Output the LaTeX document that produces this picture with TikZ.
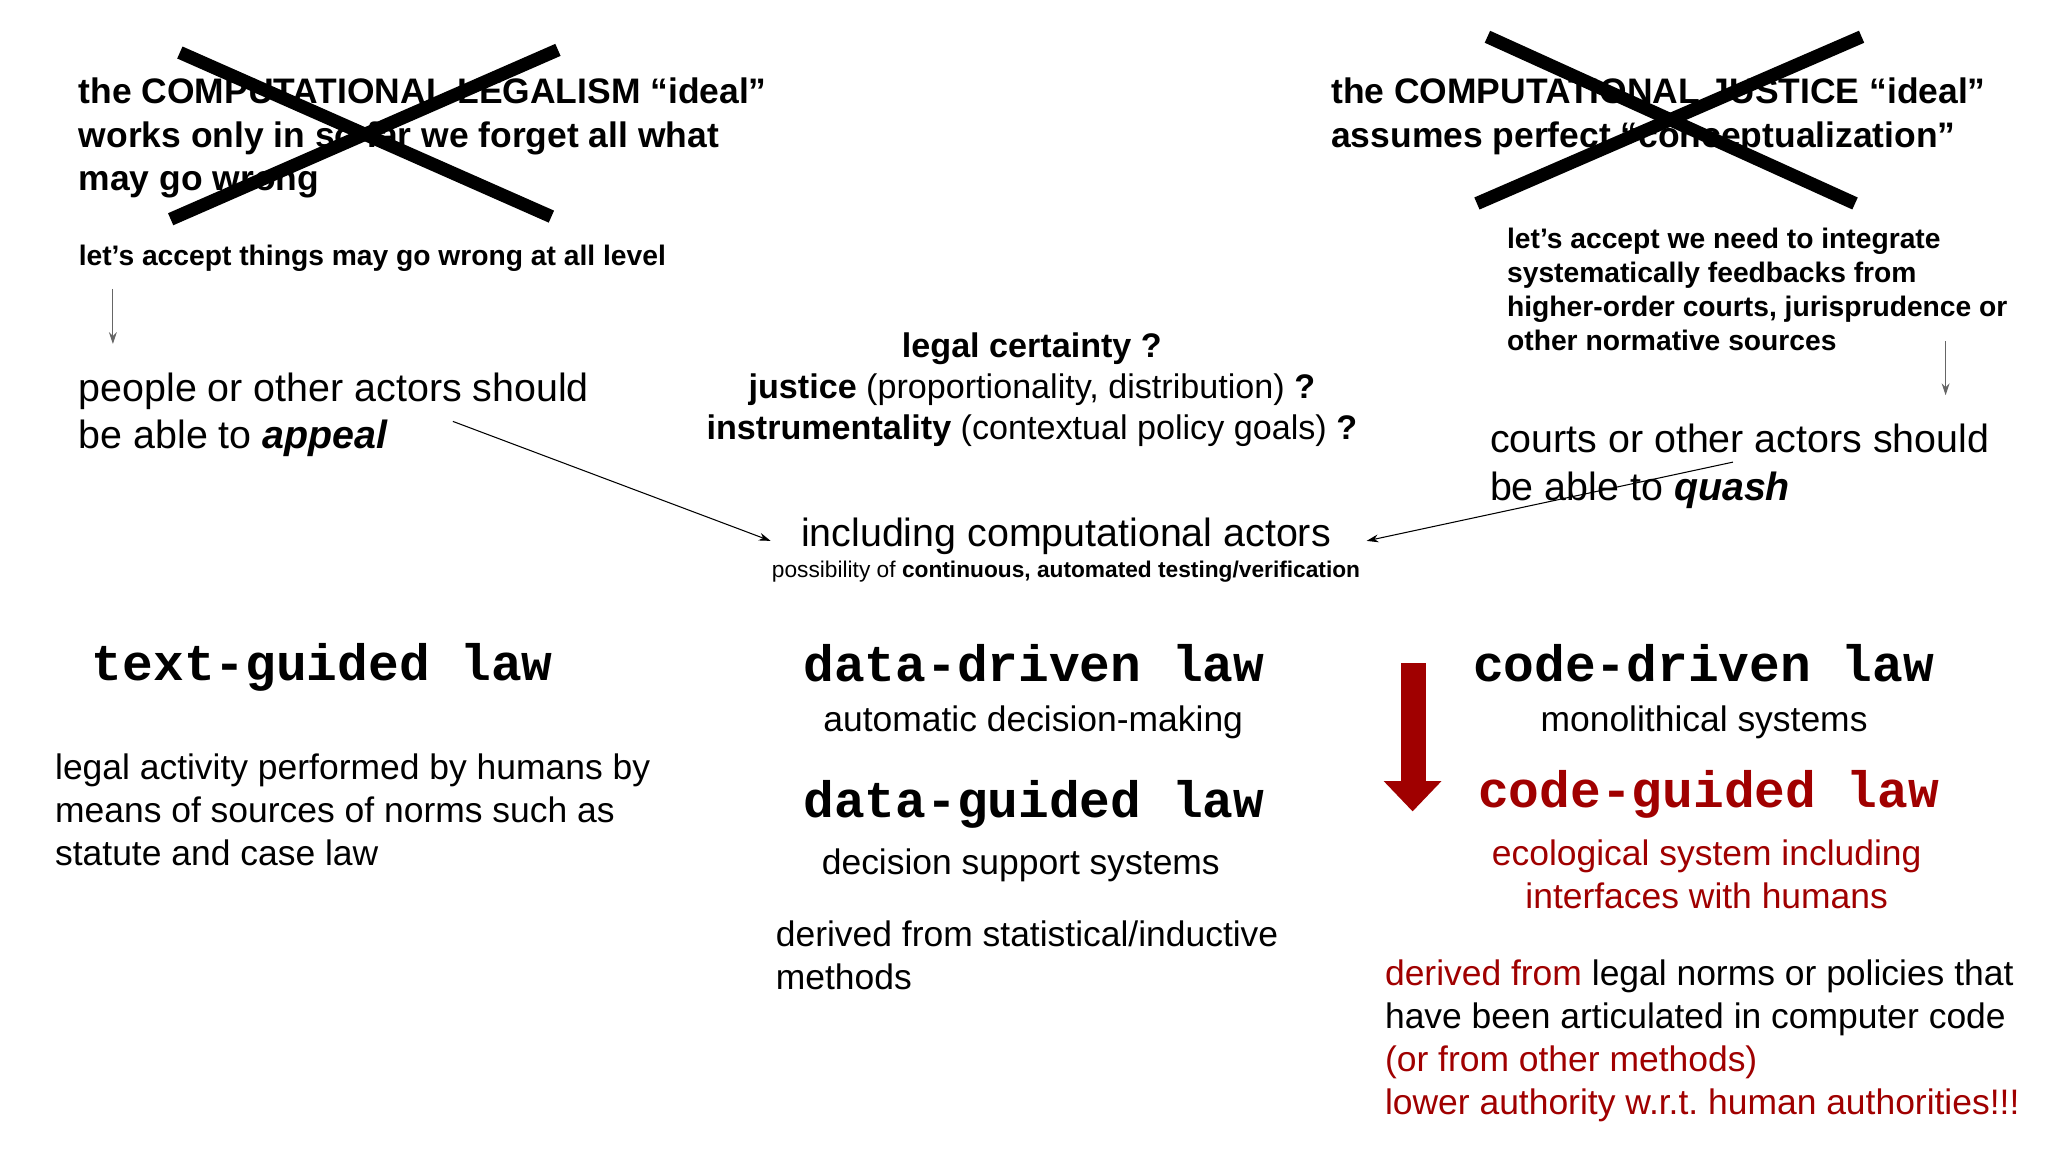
\documentclass[tikz,border=0pt]{standalone}
\usepackage{fontspec}
\setmainfont{Liberation Sans}
\setmonofont{Liberation Mono}
\usetikzlibrary{arrows.meta}
\definecolor{dred}{RGB}{160,0,0}
\frenchspacing
\begin{document}
\begin{tikzpicture}[x=1pt,y=-1pt,
  every node/.style={inner sep=0pt,outer sep=0pt},
  hb/.style={font=\fontsize{27}{33}\selectfont\bfseries,align=left,anchor=base west},
  sb/.style={font=\fontsize{21.5}{26}\selectfont\bfseries,align=left,anchor=base west},
  rg/.style={font=\fontsize{30}{36}\selectfont,align=left,anchor=base west},
  md/.style={font=\fontsize{27}{32.7}\selectfont,align=left,anchor=base west},
  cd/.style={font=\fontsize{39}{40}\selectfont\ttfamily\bfseries,anchor=base west},
  cross/.style={line width=10pt},
  thin/.style={-{Stealth[length=9pt,width=6pt]},line width=0.8pt},
  grayar/.style={-{Stealth[length=9pt,width=6pt]},line width=0.8pt,gray!80!black}]
\useasboundingbox[fill=white] (0,0) rectangle (1560,877.5);
% left top
\node[hb] (lt) at (60,145) {the COMPUTATIONAL LEGALISM “ideal”\\works only in so far we forget all what\\may go wrong};
\coordinate (x1a) at (137,40); \coordinate (x1b) at (420,165);
\coordinate (x1c) at (425,38); \coordinate (x1d) at (130,167);
\draw[cross] (x1a) -- (x1b); \draw[cross] (x1c) -- (x1d);
\node[sb] (la) at (60,202) {let’s accept things may go wrong at all level};
\coordinate (ga1) at (86,220); \coordinate (ga2) at (86,262);
\draw[grayar] (ga1) -- (ga2);
\node[rg] (pe) at (60,342) {people or other actors should\\be able to \textbf{\textit{appeal}}};
% center
\node[font=\fontsize{26}{31.5}\selectfont,align=center,anchor=base] (lc) at (786,335) {\textbf{legal certainty ?}\\\textbf{justice} (proportionality, distribution) \textbf{?}\\\textbf{instrumentality} (contextual policy goals) \textbf{?}};
\node[font=\fontsize{30}{30}\selectfont,anchor=base] (inc) at (812,416) {including computational actors};
\node[font=\fontsize{17.3}{20}\selectfont,anchor=base] (pos) at (812,440) {possibility of \textbf{continuous, automated testing/verification}};
% right top
\node[hb] (rt) at (1014,112) {the COMPUTATIONAL JUSTICE “ideal”\\assumes perfect “conceptualization”};
\coordinate (x2a) at (1133,28); \coordinate (x2b) at (1413,155);
\coordinate (x2c) at (1418,28); \coordinate (x2d) at (1125,155);
\draw[cross] (x2a) -- (x2b); \draw[cross] (x2c) -- (x2d);
\node[sb] (ra) at (1148,267) {let’s accept we need to integrate\\systematically feedbacks from\\higher-order courts, jurisprudence or\\other normative sources};
\coordinate (gb1) at (1482,260); \coordinate (gb2) at (1482,301);
\draw[grayar] (gb1) -- (gb2);
\node[rg] (co) at (1135,381) {courts or other actors should\\be able to \textbf{\textit{quash}}};
\coordinate (ap) at (345,321); \coordinate (qs) at (1320,352);
\draw[thin] (ap) -- (587,412);
\draw[thin] (qs) -- (1041,412);
% bottom left
\node[cd] (tg) at (70,518) {text-guided law};
\node[md] (lg) at (42,659) {legal activity performed by humans by\\means of sources of norms such as\\statute and case law};
% bottom center
\node[cd] (dd) at (612,519) {data-driven law};
\node[md,anchor=base] (ad) at (787,557) {automatic decision-making};
\node[cd] (dg) at (612,623) {data-guided law};
\node[md] (ds) at (626,666) {decision support systems};
\node[md] (df) at (591,754) {derived from statistical/inductive\\methods};
% bottom right
\fill[dred] (1067,505) rectangle (1086,595);
\fill[dred] (1054,595) -- (1098,595) -- (1076,618) -- cycle;
\node[cd] (cdl) at (1122,519) {code-driven law};
\node[md,anchor=base] (ms) at (1298,557) {monolithical systems};
\node[cd,text=dred] (cg) at (1126,615) {code-guided law};
\node[md,align=center,anchor=base,text=dred] (ec) at (1300,692) {ecological system including\\interfaces with humans};
\node[md] (dl) at (1055,849) {\textcolor{dred}{derived from} legal norms or policies that\\have been articulated in computer code\\\textcolor{dred}{(or from other methods)}\\\textcolor{dred}{lower authority w.r.t. human authorities!!!}};
\end{tikzpicture}
\end{document}
